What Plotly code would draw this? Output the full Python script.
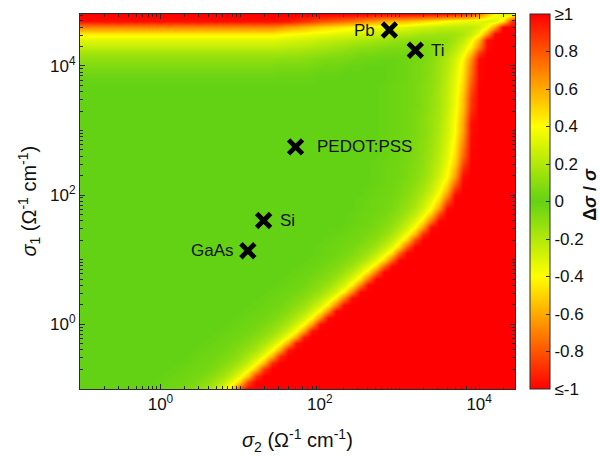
import numpy as np
import plotly.graph_objects as go

# ---- data ----
# grid node positions: log10 of sigma_2 (columns) and sigma_1 (rows), Ohm^-1 cm^-1
LOG_SIGMA2 = [-1.0, -0.9, -0.8, -0.7, -0.6, -0.5, -0.4, -0.3, -0.2, -0.1,
              0.0, 0.1, 0.2, 0.3, 0.4, 0.5, 0.6, 0.7, 0.8, 0.9,
              1.0, 1.1, 1.2, 1.3, 1.4, 1.5, 1.6, 1.7, 1.8, 1.9,
              2.0, 2.1, 2.2, 2.3, 2.4, 2.5, 2.6, 2.7, 2.8, 2.9,
              3.0, 3.1, 3.2, 3.3, 3.4, 3.5, 3.6, 3.7, 3.8, 3.9,
              4.0, 4.1, 4.2, 4.3, 4.4, 4.5, 4.6]
LOG_SIGMA1 = [-1.0, -0.9, -0.8, -0.7, -0.6, -0.5, -0.4, -0.3, -0.2, -0.1,
              0.0, 0.1, 0.2, 0.3, 0.4, 0.5, 0.6, 0.7, 0.8, 0.9,
              1.0, 1.1, 1.2, 1.3, 1.4, 1.5, 1.6, 1.7, 1.8, 1.9,
              2.0, 2.1, 2.2, 2.3, 2.4, 2.5, 2.6, 2.7, 2.8, 2.9,
              3.0, 3.1, 3.2, 3.3, 3.4, 3.5, 3.6, 3.7, 3.8, 3.9,
              4.0, 4.1, 4.2, 4.3, 4.4, 4.5, 4.6, 4.7, 4.8]

# |delta sigma / sigma| in percent (100 = saturated), one row per sigma_1 node
DELTA_PCT = [
    [0]*9 + [1, 2, 3, 4, 5, 8, 11, 17, 24, 35, 52, 83, 100] + [100]*35,
    [0]*10 + [1, 2, 3, 4, 5, 8, 11, 17, 24, 35, 52, 83, 100] + [100]*34,
    [0]*11 + [1, 2, 3, 4, 5, 8, 12, 17, 25, 36, 55, 87, 100] + [100]*33,
    [0]*12 + [1, 2, 3, 4, 5, 8, 12, 17, 25, 36, 55, 87, 100] + [100]*32,
    [0]*13 + [1, 2, 3, 4, 6, 8, 12, 18, 26, 38, 57, 90, 100] + [100]*31,
    [0]*14 + [1, 2, 3, 4, 6, 8, 12, 18, 26, 38, 57, 90, 100] + [100]*30,
    [0]*15 + [1, 2, 3, 4, 6, 9, 13, 18, 27, 39, 60, 94, 100] + [100]*29,
    [0]*16 + [1, 2, 3, 4, 6, 9, 13, 18, 27, 39, 60, 94, 100] + [100]*28,
    [0]*17 + [1, 2, 3, 4, 6, 9, 13, 18, 27, 39, 60, 94, 100] + [100]*27,
    [0]*18 + [1, 2, 3, 4, 6, 9, 13, 19, 28, 40, 62, 97, 100] + [100]*26,
    [0]*19 + [1, 2, 3, 4, 6, 9, 13, 19, 28, 40, 62, 97, 100] + [100]*25,
    [0]*19 + [0, 1, 2, 3, 4, 6, 9, 14, 20, 29, 42, 66, 98] + [100]*25,
    [0]*20 + [0, 1, 2, 3, 4, 6, 9, 14, 20, 29, 42, 66, 98] + [100]*24,
    [0]*21 + [0, 1, 2, 3, 4, 7, 10, 14, 21, 30, 44, 69, 98] + [100]*23,
    [0]*22 + [0, 1, 2, 3, 4, 7, 10, 14, 21, 30, 44, 69, 98] + [100]*22,
    [0]*23 + [0, 1, 2, 3, 4, 7, 10, 14, 21, 30, 44, 69, 98] + [100]*21,
    [0]*24 + [0, 1, 2, 3, 4, 7, 10, 14, 21, 30, 44, 69, 98] + [100]*20,
    [0]*25 + [0, 1, 2, 3, 5, 7, 10, 15, 22, 32, 46, 73, 99] + [100]*19,
    [0]*26 + [0, 1, 2, 3, 5, 7, 10, 15, 22, 32, 46, 73, 99] + [100]*18,
    [0]*27 + [0, 1, 2, 3, 5, 7, 11, 15, 23, 33, 48, 76, 99] + [100]*17,
    [0]*28 + [0, 1, 2, 3, 5, 7, 11, 15, 23, 33, 48, 76, 99] + [100]*16,
    [0]*29 + [0, 1, 2, 3, 5, 7, 11, 15, 23, 33, 48, 76, 99] + [100]*15,
    [0]*30 + [1, 2, 3, 4, 5, 8, 11, 16, 24, 34, 50, 80, 100] + [100]*14,
    [0]*31 + [1, 2, 3, 4, 5, 8, 11, 17, 24, 35, 52, 83, 100] + [100]*13,
    [0]*32 + [1, 2, 3, 4, 6, 8, 12, 18, 26, 38, 57, 90, 100] + [100]*12,
    [0]*33 + [1, 2, 3, 4, 6, 9, 13, 19, 28, 40, 62, 97, 100] + [100]*11,
    [0]*33 + [0, 1, 2, 3, 5, 7, 10, 15, 22, 32, 46, 73, 99] + [100]*11,
    [0]*34 + [1, 2, 3, 4, 5, 8, 11, 17, 24, 35, 52, 83, 100] + [100]*10,
    [0]*35 + [1, 2, 3, 4, 6, 9, 13, 19, 28, 40, 62, 97, 100] + [100]*9,
    [0]*35 + [1, 2, 3, 4, 5, 8, 11, 16, 24, 34, 50, 80, 100] + [100]*9,
    [0]*35 + [0, 1, 2, 3, 4, 6, 9, 14, 20, 29, 42, 66, 98] + [100]*9,
    [0]*36 + [1, 2, 3, 4, 5, 8, 12, 17, 25, 36, 55, 87, 100] + [100]*8,
    [0]*36 + [0, 1, 2, 3, 5, 7, 10, 15, 22, 32, 46, 73, 99] + [100]*8,
    [0]*37 + [1, 2, 3, 4, 6, 9, 13, 19, 28, 40, 62, 97, 100] + [100]*7,
    [0]*37 + [1, 2, 3, 4, 6, 8, 12, 18, 26, 38, 57, 90, 100] + [100]*7,
    [0]*37 + [1, 2, 3, 4, 5, 8, 11, 17, 24, 35, 52, 83, 100] + [100]*7,
    [0]*37 + [0, 1, 2, 3, 5, 7, 11, 15, 23, 33, 48, 76, 99] + [100]*7,
    [0]*37 + [0, 1, 2, 3, 5, 7, 10, 15, 22, 32, 46, 73, 99] + [100]*7,
    [0]*37 + [0, 1, 2, 3, 4, 7, 10, 14, 21, 30, 44, 69, 98] + [100]*7,
    [0]*37 + [0, 1, 2, 3, 4, 6, 9, 14, 20, 29, 42, 66, 98] + [100]*7,
    [0]*38 + [1, 2, 3, 4, 6, 9, 13, 19, 28, 40, 62, 97, 100] + [100]*6,
    [0]*38 + [1, 2, 3, 4, 6, 9, 13, 19, 28, 40, 62, 97, 100] + [100]*6,
    [0]*38 + [1, 2, 3, 4, 6, 9, 13, 18, 27, 39, 60, 94, 100] + [100]*6,
    [0]*38 + [1, 2, 3, 4, 6, 8, 12, 18, 26, 38, 57, 90, 100] + [100]*6,
    [0]*38 + [1, 2, 3, 4, 5, 8, 12, 17, 25, 36, 55, 87, 100] + [100]*6,
    [0]*38 + [1, 2, 3, 4, 5, 8, 12, 17, 25, 36, 55, 87, 100] + [100]*6,
    [0]*38 + [1, 2, 3, 4, 5, 8, 11, 17, 24, 35, 52, 83, 100] + [100]*6,
    [0]*38 + [1, 2, 3, 4, 5, 8, 11, 16, 24, 34, 50, 80, 100] + [100]*6,
    [1]*30 + [0]*8 + [0, 1, 2, 3, 5, 7, 11, 15, 23, 33, 48, 76, 99] + [100]*6,
    [4]*25 + [3, 3, 3, 3, 2, 1, 1, 1, 0, 0, 0, 0, 0]
        + [0, 1, 2, 3, 5, 7, 10, 15, 22, 32, 46, 73, 99] + [100]*6,
    [7]*25 + [6, 6, 6, 6, 5, 4, 3, 3, 2, 1, 1, 0, 0]
        + [0, 1, 2, 3, 5, 7, 10, 15, 21, 31, 45, 71, 99] + [100]*6,
    [11]*25 + [10, 10, 10, 9, 8, 7, 6, 6, 5, 4, 3, 2, 2]
        + [1, 1, 2, 3, 4, 6, 9, 14, 20, 29, 42, 66, 98] + [100]*6,
    [16]*25 + [16, 15, 15, 14, 13, 12, 11, 10, 9, 8, 6, 6, 5, 4]
        + [4, 4, 4, 5, 5, 8, 12, 17, 25, 36, 55, 87, 100] + [100]*5,
    [24]*25 + [23, 22, 21, 21, 19, 18, 17, 15, 14, 12, 11, 10, 9, 8]
        + [7, 7, 7, 7, 6, 8, 11, 14, 21, 30, 44, 69, 98] + [100]*5,
    [32]*25 + [31, 30, 29, 28, 27, 25, 24, 23, 22, 20, 19, 18, 16, 15, 13, 12,
               11, 10, 10, 10, 11, 12, 17, 24, 36, 58, 97] + [100]*5,
    [44]*25 + [42, 40, 39, 38, 36, 35, 34, 32, 31, 30, 28, 27, 26, 24, 22, 21,
               20, 18, 16, 16, 15, 15, 16, 19, 26, 38, 65, 99] + [100]*4,
    [69]*25 + [66, 62, 60, 57, 54, 51, 49, 47, 45, 42, 40, 39, 37, 36, 34, 33,
               32, 30, 28, 27, 24, 24, 23, 23, 23, 27, 39, 63] + [100]*4,
    [97]*25 + [96, 95, 92, 89, 86, 82, 80, 77, 75, 73, 70, 66, 63, 60, 58, 57,
               56, 53, 50, 47, 44, 40, 38, 36, 34, 33, 30, 32, 45, 85] + [100]*2,
    [100]*35 + [99, 99, 98, 98, 97, 98, 98, 98, 97, 96, 96, 95, 92, 90, 84, 72,
                55, 40, 30, 30, 55, 100],
]
assert len(DELTA_PCT) == len(LOG_SIGMA1)
assert all(len(row) == len(LOG_SIGMA2) for row in DELTA_PCT)

MATERIALS = ["Pb", "Ti", "PEDOT:PSS", "Si", "GaAs"]
MAT_SIGMA2 = [747, 1580, 49.6, 19.7, 12.5]
MAT_SIGMA1 = [35900, 17500, 557, 40.3, 13.7]
LABEL_SIDE = ["left", "right", "right", "right", "left"]

CBAR_TICKS = [-100, -80, -60, -40, -20, 0, 20, 40, 60, 80, 100]
CBAR_LABELS = ["\u2264-1", "-0.8", "-0.6", "-0.4", "-0.2", "0",
               "0.2", "0.4", "0.6", "0.8", "\u22651"]

MAJOR_TICKS = [1, 100, 10000]
MAJOR_LABELS = ["10<sup>0</sup>", "10<sup>2</sup>", "10<sup>4</sup>"]
MINOR_TICKS = [0.1, 0.2, 0.3, 0.4, 0.5, 0.6, 0.7, 0.8, 0.9,
               2, 3, 4, 5, 6, 7, 8, 9, 10, 20, 30, 40, 50, 60, 70, 80, 90,
               200, 300, 400, 500, 600, 700, 800, 900, 1000,
               2000, 3000, 4000, 5000, 6000, 7000, 8000, 9000,
               20000, 30000, 40000, 50000, 60000, 70000, 80000, 90000]

FONT = "Liberation Sans, Arial, Helvetica, sans-serif"
AXCOL = "#2a2a2a"
TXT = "#111111"

x_nodes = 10 ** np.array(LOG_SIGMA2)
y_nodes = 10 ** np.array(LOG_SIGMA1)

colorscale = [
    [0.0, "rgb(255,0,0)"],
    [0.3, "rgb(255,255,0)"],
    [0.5, "rgb(100,210,20)"],
    [0.7, "rgb(255,255,0)"],
    [1.0, "rgb(255,0,0)"],
]

fig = go.Figure()
fig.add_trace(go.Heatmap(
    x=x_nodes, y=y_nodes, z=DELTA_PCT,
    zmin=-100, zmax=100, zsmooth="best",
    colorscale=colorscale, hoverinfo="skip",
    colorbar=dict(
        x=1.0321, xanchor="left", xpad=0, y=0.5, yanchor="middle",
        len=1, lenmode="fraction", ypad=0, thickness=20,
        outlinewidth=1, outlinecolor=AXCOL,
        tickmode="array", tickvals=CBAR_TICKS, ticktext=CBAR_LABELS,
        ticks="inside", ticklen=4, tickcolor=AXCOL,
        tickfont=dict(family=FONT, size=17, color=TXT),
    ),
))

fig.add_trace(go.Scatter(
    x=MAT_SIGMA2, y=MAT_SIGMA1, mode="markers",
    marker=dict(symbol="x-thin", size=14, color="black",
                line=dict(color="black", width=4.8)),
    hoverinfo="skip", showlegend=False,
))

annotations = []
for name, s2, s1, side in zip(MATERIALS, MAT_SIGMA2, MAT_SIGMA1, LABEL_SIDE):
    annotations.append(dict(
        x=np.log10(s2), y=np.log10(s1), xref="x", yref="y",
        text=name, showarrow=False,
        xanchor="right" if side == "left" else "left",
        xshift=-12 if side == "left" else (19 if name == "PEDOT:PSS" else 14),
        font=dict(family=FONT, size=17, color=TXT),
    ))

annotations.append(dict(
    x=0.5, y=-0.137, xref="paper", yref="paper", showarrow=False,
    text="<i>\u03c3</i><sub>2</sub> (\u03a9<sup>-1</sup> cm<sup>-1</sup>)",
    xanchor="center", yanchor="middle",
    font=dict(family=FONT, size=20, color=TXT),
))
annotations.append(dict(
    x=-0.117, y=0.5, xref="paper", yref="paper", showarrow=False,
    text="<i>\u03c3</i><sub>1</sub> (\u03a9<sup>-1</sup> cm<sup>-1</sup>)",
    textangle=-90, xanchor="center", yanchor="middle",
    font=dict(family=FONT, size=20, color=TXT),
))
annotations.append(dict(
    x=1.172, y=0.52, xref="paper", yref="paper", showarrow=False,
    text="<b>\u0394<i>\u03c3</i> / <i>\u03c3</i></b>",
    textangle=-90, xanchor="center", yanchor="middle",
    font=dict(family=FONT, size=18, color=TXT),
))

axis_common = dict(
    type="log", showgrid=False, zeroline=False, automargin=False,
    showline=True, linecolor=AXCOL, linewidth=1, mirror="ticks",
    ticks="inside", ticklen=5, tickcolor=AXCOL, tickwidth=1,
    tickfont=dict(family=FONT, size=17, color=TXT),
    tickmode="array", tickvals=MAJOR_TICKS, ticktext=MAJOR_LABELS,
    minor=dict(tickmode="array", tickvals=MINOR_TICKS, ticks="inside",
               ticklen=3, tickcolor=AXCOL, showgrid=False),
)

fig.update_layout(
    width=600, height=456,
    margin=dict(l=80, r=84, t=14, b=67),
    paper_bgcolor="white", plot_bgcolor="white",
    showlegend=False,
    xaxis=dict(axis_common, range=[-1.01, 4.45]),
    yaxis=dict(axis_common, range=[-1.005, 4.804]),
    annotations=annotations,
)

fig.write_html("out.html", config={"displayModeBar": False},
               post_script="document.body.style.margin='0px';")
